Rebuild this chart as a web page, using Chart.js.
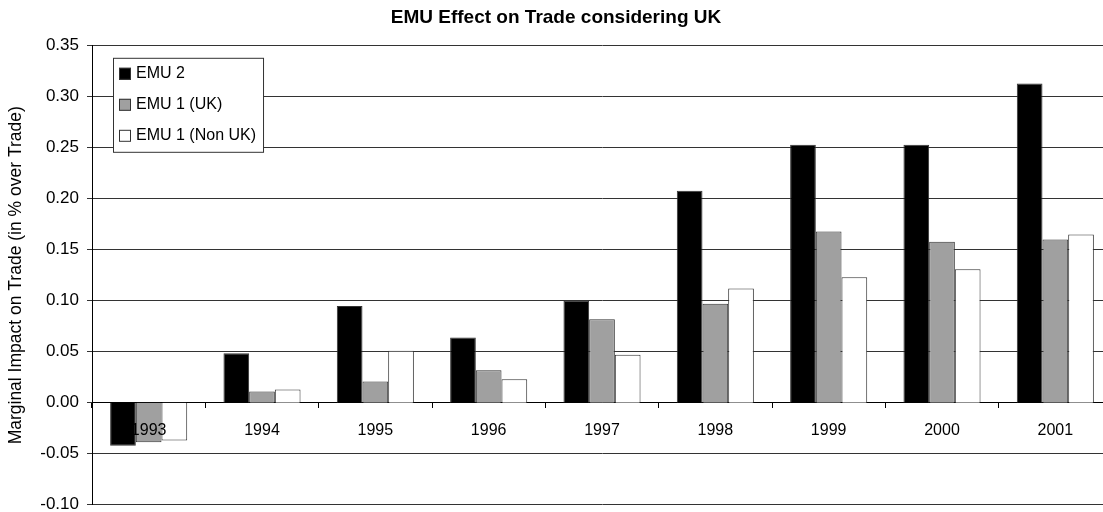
<!DOCTYPE html>
<html>
<head>
<meta charset="utf-8">
<title>EMU Effect on Trade considering UK</title>
<script src="https://cdn.jsdelivr.net/npm/chart.js@4/dist/chart.umd.min.js"></script>
<style>
  html, body { margin: 0; padding: 0; background: #fff; overflow: hidden; }
  #wrap { width: 1112px; height: 512px; overflow: hidden; }
</style>
</head>
<body>
<div id="wrap"><canvas id="emuChart" width="1112" height="523"></canvas></div>
<script>
const years = ['1993', '1994', '1995', '1996', '1997', '1998', '1999', '2000', '2001'];
const emu2 = [-0.042, 0.0485, 0.095, 0.064, 0.1, 0.208, 0.253, 0.253, 0.313];
const emu1Uk = [-0.0387, 0.011, 0.021, 0.032, 0.082, 0.097, 0.168, 0.158, 0.16];
const emu1NonUk = [-0.037, 0.013, 0.051, 0.023, 0.047, 0.112, 0.123, 0.131, 0.165];
const seriesNames = ['EMU 2', 'EMU 1 (UK)', 'EMU 1 (Non UK)'];

Chart.defaults.font.family = "'Liberation Sans', Arial, sans-serif";
Chart.defaults.color = '#000';

// legend drawn as a framed box inside the plot, like the original
const boxLegend = {
  id: 'boxLegend',
  afterDraw(chart) {
    const ctx = chart.ctx;
    const left = chart.chartArea.left + 21;
    const top = chart.chartArea.top + 12;
    const rowGap = 31;
    ctx.save();
    ctx.font = "16px 'Liberation Sans', Arial, sans-serif";
    let textW = 0;
    chart.data.datasets.forEach((ds) => {
      textW = Math.max(textW, ctx.measureText(ds.label).width);
    });
    const w = 6 + 12 + 5 + textW + 7;
    const h = rowGap * chart.data.datasets.length + 1;
    ctx.fillStyle = '#fff';
    ctx.fillRect(left, top, w, h);
    ctx.strokeStyle = '#333';
    ctx.lineWidth = 1;
    ctx.strokeRect(left + 0.5, top + 0.5, w, h);
    chart.data.datasets.forEach((ds, i) => {
      const cy = top + 16 + i * rowGap;
      ctx.fillStyle = ds.backgroundColor;
      ctx.fillRect(left + 6, cy - 6, 12, 12);
      ctx.strokeStyle = '#333';
      ctx.strokeRect(left + 6.5, cy - 5.5, 11, 11);
      ctx.fillStyle = '#000';
      ctx.textBaseline = 'middle';
      ctx.textAlign = 'left';
      ctx.fillText(ds.label, left + 23, cy);
    });
    ctx.restore();
  },
};

const ctx = document.getElementById('emuChart').getContext('2d');
new Chart(ctx, {
  type: 'bar',
  data: {
    labels: years,
    datasets: [
      { label: seriesNames[0], data: emu2, backgroundColor: '#000000' },
      { label: seriesNames[1], data: emu1Uk, backgroundColor: '#a0a0a0' },
      { label: seriesNames[2], data: emu1NonUk, backgroundColor: '#ffffff' },
    ].map((ds) => ({
      ...ds,
      borderColor: '#333',
      borderWidth: 1,
      categoryPercentage: 0.68,
      barPercentage: 1,
    })),
  },
  options: {
    responsive: false,
    animation: false,
    layout: { padding: 0 },
    plugins: {
      legend: { display: false },
      tooltip: { enabled: false },
      title: {
        display: true,
        text: 'EMU Effect on Trade considering UK',
        color: '#000',
        font: { size: 19, weight: 'bold' },
        padding: { top: 6, bottom: 17 },
      },
    },
    scales: {
      x: {
        position: { y: 0 },
        offset: true,
        grid: {
          offset: true,
          drawOnChartArea: false,
          drawTicks: true,
          tickLength: 5,
          color: '#000',
        },
        border: { display: true, color: '#000' },
        // labels sit on top of the bars (the 1993 label overlaps them)
        ticks: { z: 1, font: { size: 16 }, color: '#000', padding: 13, maxRotation: 0 },
      },
      y: {
        min: -0.1,
        max: 0.35,
        afterFit: (scale) => { scale.width = 92; },
        title: {
          display: true,
          text: 'Marginal Impact on Trade (in % over Trade)',
          font: { size: 17.5 },
          color: '#000',
          padding: { top: 6, bottom: 0 },
        },
        grid: { color: '#333', tickLength: 5, drawTicks: true },
        border: { display: true, color: '#000' },
        ticks: {
          stepSize: 0.05,
          padding: 8,
          font: { size: 17 },
          color: '#000',
          callback: (v) => (Math.abs(v) < 1e-9 ? 0 : v).toFixed(2),
        },
      },
    },
  },
  plugins: [boxLegend],
});
</script>
</body>
</html>
